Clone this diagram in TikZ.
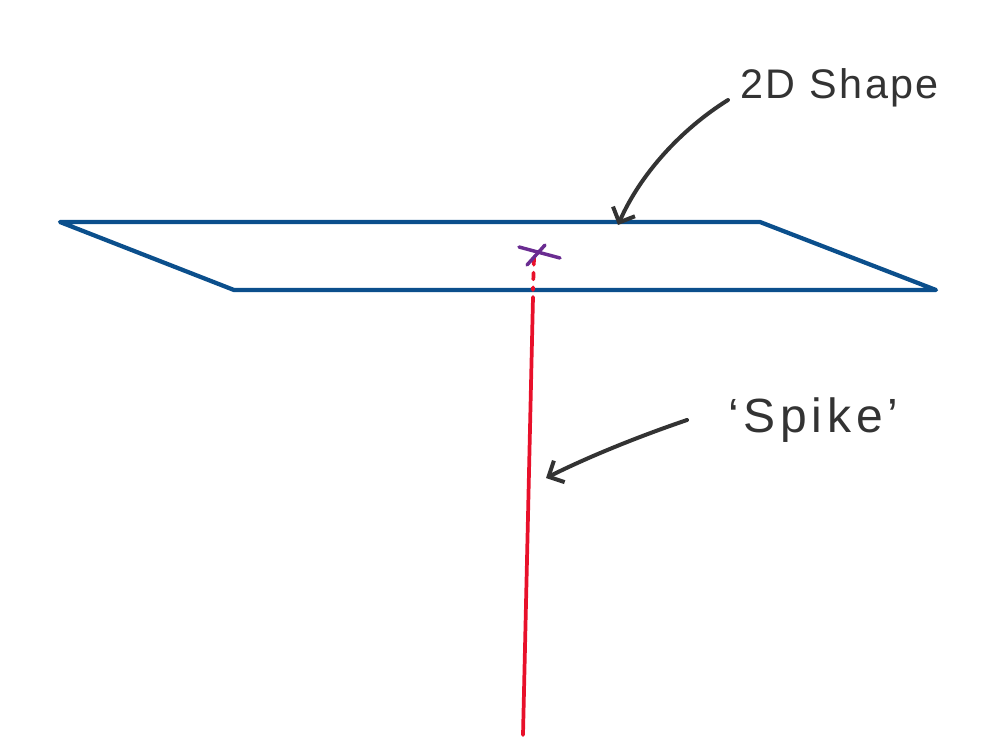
\documentclass[tikz,border=0pt]{standalone}
\usepackage{fontspec}
\setmainfont{Liberation Sans}
\newfontfamily\labelfont[LetterSpace=10]{Liberation Sans}
\newfontfamily\shapefont[LetterSpace=6]{Liberation Sans}
\usetikzlibrary{arrows.meta}
\definecolor{shapeblue}{HTML}{0B4F8C}
\definecolor{spikered}{HTML}{E8102A}
\definecolor{crosspurple}{HTML}{6A2C91}
\definecolor{inkgray}{HTML}{333333}
\tikzset{
  outline/.style={draw=shapeblue, line width=3.2pt, line join=round},
  spikeline/.style={draw=spikered, line width=2.8pt, line cap=round},
  crossline/.style={draw=crosspurple, line width=2.6pt, line cap=round},
  pointer/.style={draw=inkgray, line width=3pt, line cap=round, line join=round,
    -{Straight Barb[length=9pt,width=18pt,line width=3pt]}},
  label/.style={text=inkgray, inner sep=0pt}
}
\begin{document}
\begin{tikzpicture}[x=0.75pt, y=-0.75pt]
\useasboundingbox (0,0) rectangle (982,754);
% parallelogram
\coordinate (p1) at (60,222);
\coordinate (p2) at (760,222);
\coordinate (p3) at (936,290);
\coordinate (p4) at (234,290);
\draw[outline] (p1) -- (p2) -- (p3) -- (p4) -- cycle;
% spike
\coordinate (top) at (534,258);
\coordinate (base) at (533,290);
\coordinate (low) at (533,297);
\coordinate (tip) at (523,735);
\draw[spikeline, dash pattern=on 5pt off 6pt] (top) -- (base);
\draw[spikeline] (low) -- (tip);
% cross
\coordinate (c1) at (519,247);
\coordinate (c2) at (560,258);
\coordinate (c3) at (545,245);
\coordinate (c4) at (527,265);
\draw[crossline] (c1) -- (c2);
\draw[crossline] (c3) -- (c4);
% labels
\node[label, anchor=west, font=\shapefont\fontsize{31}{36}\selectfont] (shape) at (740,88) {2D Shape};
\node[label, anchor=west, font=\labelfont\fontsize{36}{40}\selectfont] (spike) at (728,420) {‘Spike’};
% pointers
\coordinate (s1) at (728,100);
\coordinate (e1) at (618,225);
\draw[pointer] (s1) .. controls (680,130) and (640,175) .. (e1);
\coordinate (s2) at (687,420);
\coordinate (e2) at (546,478);
\draw[pointer] (s2) .. controls (640,436) and (590,456) .. (e2);
\end{tikzpicture}
\end{document}
